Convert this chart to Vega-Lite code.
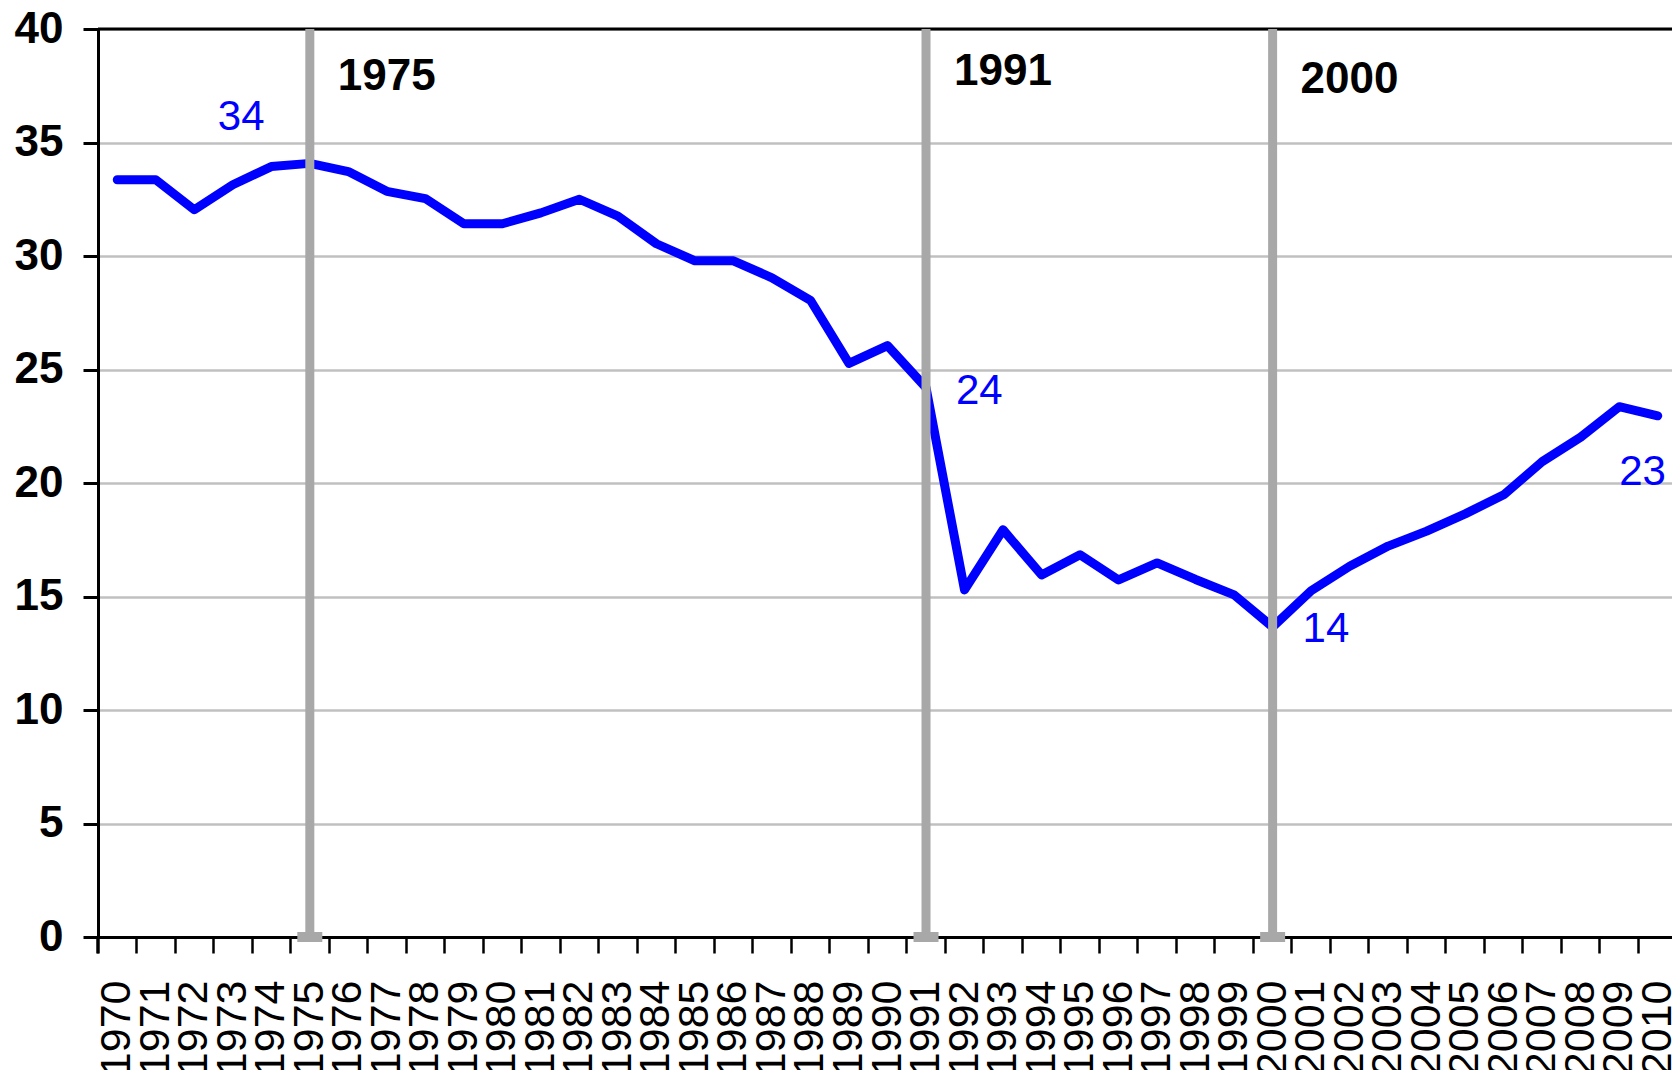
{
  "$schema": "https://vega.github.io/schema/vega-lite/v6.json",
  "autosize": "none",
  "padding": {"left": 98, "top": 29, "right": 0, "bottom": 133},
  "width": 1579,
  "height": 908,
  "background": "white",
  "config": {
    "view": {"stroke": null},
    "font": "Liberation Sans"
  },
  "datasets": {
    "series": [
      {"year": 1970, "value": 33.36},
      {"year": 1971, "value": 33.36},
      {"year": 1972, "value": 32.04},
      {"year": 1973, "value": 33.14},
      {"year": 1974, "value": 33.94},
      {"year": 1975, "value": 34.08},
      {"year": 1976, "value": 33.72},
      {"year": 1977, "value": 32.85},
      {"year": 1978, "value": 32.53},
      {"year": 1979, "value": 31.42},
      {"year": 1980, "value": 31.42},
      {"year": 1981, "value": 31.9},
      {"year": 1982, "value": 32.5},
      {"year": 1983, "value": 31.76},
      {"year": 1984, "value": 30.54},
      {"year": 1985, "value": 29.79},
      {"year": 1986, "value": 29.79},
      {"year": 1987, "value": 29.04},
      {"year": 1988, "value": 28.05},
      {"year": 1989, "value": 25.27},
      {"year": 1990, "value": 26.05},
      {"year": 1991, "value": 24.2},
      {"year": 1992, "value": 15.29},
      {"year": 1993, "value": 17.94},
      {"year": 1994, "value": 15.95},
      {"year": 1995, "value": 16.84},
      {"year": 1996, "value": 15.73},
      {"year": 1997, "value": 16.48},
      {"year": 1998, "value": 15.75},
      {"year": 1999, "value": 15.07},
      {"year": 2000, "value": 13.66},
      {"year": 2001, "value": 15.25},
      {"year": 2002, "value": 16.33},
      {"year": 2003, "value": 17.22},
      {"year": 2004, "value": 17.88},
      {"year": 2005, "value": 18.64},
      {"year": 2006, "value": 19.48},
      {"year": 2007, "value": 20.94},
      {"year": 2008, "value": 22.02},
      {"year": 2009, "value": 23.36},
      {"year": 2010, "value": 22.96}
    ],
    "markers": [
      {"year": 1975, "label": "1975", "labelY": 37.33},
      {"year": 1991, "label": "1991", "labelY": 37.53},
      {"year": 2000, "label": "2000", "labelY": 37.2}
    ]
  },
  "data": {"name": "series"},
  "encoding": {
    "x": {
      "field": "year",
      "type": "ordinal",
      "scale": {"type": "band", "paddingInner": 0, "paddingOuter": 0},
      "axis": {
        "title": null,
        "bandPosition": 0,
        "tickExtra": true,
        "domainColor": "black",
        "domainWidth": 3,
        "tickColor": "black",
        "tickWidth": 2.5,
        "tickSize": 16,
        "labelAngle": 270,
        "labelFontSize": 43,
        "labelColor": "black",
        "labelPadding": 27,
        "labelOverlap": false,
        "labelFont": "Liberation Sans",
        "grid": false
      }
    }
  },
  "layer": [
    {
      "mark": {"type": "line", "color": "#0000ff", "strokeWidth": 9, "strokeJoin": "round", "strokeCap": "round"},
      "encoding": {
        "y": {
          "field": "value",
          "type": "quantitative",
          "scale": {"domain": [0, 40], "nice": false, "zero": true},
          "axis": {
            "title": null,
            "values": [0, 5, 10, 15, 20, 25, 30, 35, 40],
            "domainColor": "black",
            "domainWidth": 3,
            "tickColor": "black",
            "tickWidth": 3,
            "tickSize": 15,
            "labelFontSize": 44,
            "labelFontWeight": "bold",
            "labelColor": "black",
            "labelPadding": 20,
            "labelFont": "Liberation Sans",
            "grid": true,
            "gridColor": "#c0c0c0",
            "gridWidth": 2.5
          }
        }
      }
    },
    {
      "data": {"values": [{"top": 40}]},
      "mark": {"type": "rule", "color": "black", "strokeWidth": 3},
      "encoding": {"y": {"field": "top", "type": "quantitative"}, "x": {"value": 0}, "x2": {"value": "width"}}
    },
    {
      "data": {"name": "markers"},
      "mark": {"type": "rule", "color": "#a8a8a8", "strokeWidth": 9},
      "encoding": {"y": {"datum": 40}, "y2": {"datum": 0}}
    },
    {
      "data": {"name": "markers"},
      "mark": {"type": "point", "shape": "M-1,-0.4H1V0.4H-1Z", "size": 625, "filled": true, "color": "#a8a8a8", "opacity": 1},
      "encoding": {"y": {"datum": 0}}
    },
    {
      "data": {"name": "markers"},
      "mark": {"type": "text", "align": "left", "baseline": "alphabetic", "dx": 28, "fontSize": 44, "fontWeight": "bold", "color": "black", "font": "Liberation Sans"},
      "encoding": {"y": {"field": "labelY", "type": "quantitative"}, "text": {"field": "label"}}
    },
    {
      "data": {"values": [{"year": 1973, "labelY": 35.55, "label": "34"}]},
      "mark": {"type": "text", "align": "left", "baseline": "alphabetic", "dx": -15, "fontSize": 42, "color": "#0000ff", "font": "Liberation Sans"},
      "encoding": {"y": {"field": "labelY", "type": "quantitative"}, "text": {"field": "label"}}
    },
    {
      "data": {"values": [{"year": 1991, "labelY": 23.48, "label": "24"}, {"year": 2000, "labelY": 13.0, "label": "14"}]},
      "mark": {"type": "text", "align": "left", "baseline": "alphabetic", "dx": 30, "fontSize": 42, "color": "#0000ff", "font": "Liberation Sans"},
      "encoding": {"y": {"field": "labelY", "type": "quantitative"}, "text": {"field": "label"}}
    },
    {
      "data": {"values": [{"year": 2009, "labelY": 19.9, "label": "23"}]},
      "mark": {"type": "text", "align": "left", "baseline": "alphabetic", "dx": 0, "fontSize": 42, "color": "#0000ff", "font": "Liberation Sans"},
      "encoding": {"y": {"field": "labelY", "type": "quantitative"}, "text": {"field": "label"}}
    }
  ]
}
